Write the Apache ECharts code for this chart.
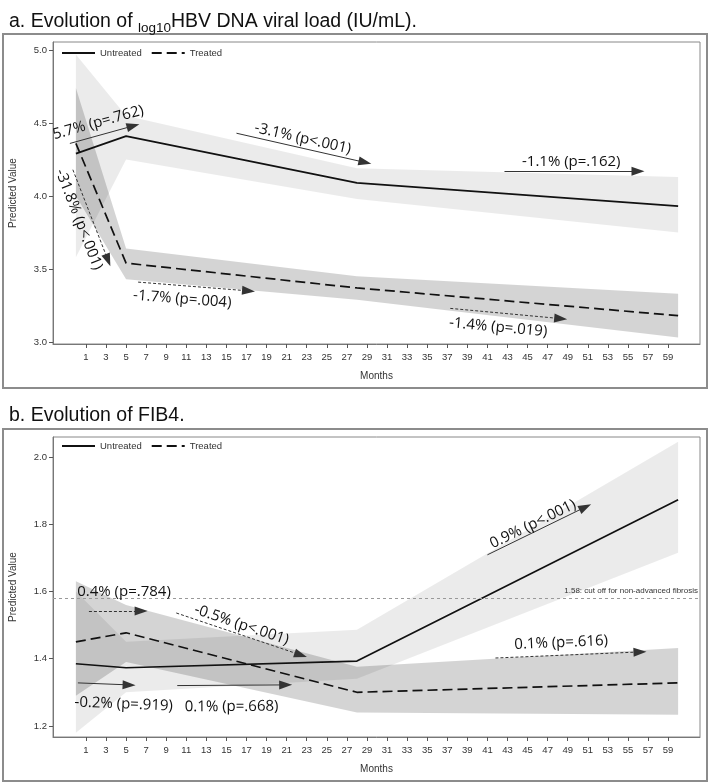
<!DOCTYPE html>
<html><head><meta charset="utf-8">
<script src="https://cdn.jsdelivr.net/npm/echarts@6/dist/echarts.min.js"></script>
<style>html,body{margin:0;padding:0;background:#fff}#c{width:710px;height:783px}</style>
</head><body><div id="c"></div>
<script>
// ---- data ----
const months = [0, 5, 28, 60];
const monthTicks = [1,3,5,7,9,11,13,15,17,19,21,23,25,27,29,31,33,35,37,39,41,43,45,47,49,51,53,55,57,59];
const seriesNames = ['Untreated', 'Treated'];

// Panel a: log10 HBV DNA
const hbvUntreated     = [4.29, 4.41, 4.09, 3.93];
const hbvUntreatedLow  = [3.58, 4.25, 3.98, 3.75];
const hbvUntreatedHigh = [4.97, 4.55, 4.19, 4.13];
const hbvTreated       = [4.36, 3.54, 3.37, 3.18];
const hbvTreatedLow    = [4.00, 3.43, 3.29, 3.03];
const hbvTreatedHigh   = [4.74, 3.64, 3.45, 3.33];
const hbvTicks = [3.0, 3.5, 4.0, 4.5, 5.0];
// annotations: [month1, value1, month2, value2, text]
const hbvArrowsSolid = [
  [-0.6, 4.36, 5.7, 4.48, '5.7% (p=.762)'],
  [16.0, 4.43, 28.8, 4.23, '-3.1% (p<.001)'],
  [42.7, 4.17, 56.0, 4.17, '-1.1% (p=.162)']
];
const hbvArrowsDotted = [
  [-0.3, 4.18, 3.2, 3.56, '-31.8% (p<.001)'],
  [6.2, 3.41, 17.2, 3.35, '-1.7% (p=.004)'],
  [37.3, 3.23, 48.3, 3.16, '-1.4% (p=.019)']
];

// Panel b: FIB4
const fibUntreated     = [1.385, 1.373, 1.393, 1.873];
const fibUntreatedLow  = [1.18, 1.30, 1.34, 1.715];
const fibUntreatedHigh = [1.60, 1.45, 1.486, 2.045];
const fibTreated       = [1.45, 1.477, 1.30, 1.328];
const fibTreatedLow    = [1.29, 1.39, 1.24, 1.233];
const fibTreatedHigh   = [1.63, 1.56, 1.376, 1.432];
const fibTicks = [1.2, 1.4, 1.6, 1.8, 2.0];
const fibCutoff = 1.58;
const fibCutoffLabel = '1.58: cut off for non-advanced fibrosis';
const fibArrowsSolid = [
  [0.2, 1.328, 5.3, 1.322, '-0.2% (p=.919)'],
  [10.1, 1.320, 20.9, 1.322, '0.1% (p=.668)'],
  [41.0, 1.709, 50.75, 1.851, '0.9% (p<.001)']
];
const fibArrowsDotted = [
  [1.3, 1.542, 6.5, 1.542, '0.4% (p=.784)'],
  [10.0, 1.536, 22.4, 1.411, '-0.5% (p<.001)'],
  [41.8, 1.402, 56.2, 1.420, '0.1% (p=.616)']
];
// label style: [side, distance, shift along line]
const labelStyle = {
  '5.7% (p=.762)':['insideMiddleTop', 5, 0], '-3.1% (p<.001)':['insideMiddleTop', 2, 0],
  '-1.1% (p=.162)':['insideMiddleTop', 2, 0], '-31.8% (p<.001)':['insideMiddleBottom', 5, 0],
  '-1.7% (p=.004)':['insideMiddleBottom', 6, -10], '-1.4% (p=.019)':['insideMiddleBottom', 7, -6],
  '-0.2% (p=.919)':['insideMiddleBottom', 12, 21], '0.1% (p=.668)':['insideMiddleBottom', 14, 0],
  '0.9% (p<.001)':['insideMiddleTop', 0, 0], '0.4% (p=.784)':['insideMiddleTop', 12, 9],
  '-0.5% (p<.001)':['insideMiddleTop', 2, 0], '0.1% (p=.616)':['insideMiddleTop', 5, -6]
};

// ---- chart ----
const chart = echarts.init(document.getElementById('c'), null, {renderer:'canvas'});
const axisFont = 'Liberation Sans, Arial, sans-serif';
const annFont = 'Open Sans, sans-serif';

function bandSeries(gi, low, high, color) {
  return {
    type:'custom', xAxisIndex:gi, yAxisIndex:gi, silent:true, z:1,
    data: months.map((m,i)=>[m, low[i], high[i]]),
    encode:{x:0, y:[1,2]},
    renderItem: function(params, api) {
      if (params.dataIndex !== 0) return null;
      const pts = [];
      for (let i=0;i<months.length;i++) pts.push(api.coord([months[i], high[i]]));
      for (let i=months.length-1;i>=0;i--) pts.push(api.coord([months[i], low[i]]));
      return {type:'polygon', shape:{points:pts}, style:{fill:color}};
    }
  };
}
function lineSeries(gi, name, vals, dashed) {
  return {
    type:'line', name:name, xAxisIndex:gi, yAxisIndex:gi, z:3,
    data: months.map((m,i)=>[m, vals[i]]),
    symbol:'none', silent:true,
    lineStyle:{color:'#111', width:1.7, type: dashed ? [10,5] : 'solid'},
    itemStyle:{color:'#111'}
  };
}
function arrowSeries(gi, list, dotted) {
  return {
    type:'line', xAxisIndex:gi, yAxisIndex:gi, data:[], silent:true, z:4,
    markLine:{
      silent:true, animation:false,
      symbol:['none','triangle'], symbolSize:[9,13],
      lineStyle:{color:'#333', width:1, type: dotted ? [3,2] : 'solid'},
      itemStyle:{color:'#111'},
      data: list.map(a => {
        const st = labelStyle[a[4]];
        const s = st[2];
        const pad = s >= 0 ? [0, 0, 0, 2*s] : [0, -2*s, 0, 0];
        const lab = {show:true, position:st[0], formatter:'{b}', fontSize:15,
          color:'#111', fontFamily:annFont, distance:st[1], padding:pad};
        return [
          {coord:[a[0],a[1]], name:a[4], label:lab},
          {coord:[a[2],a[3]], name:a[4], label:lab}
        ];
      })
    }
  };
}
function xAxisCfg(gi) {
  return {
    gridIndex:gi, type:'value', min:-2.28, max:62.18,
    axisLine:{show:true, onZero:false, lineStyle:{color:'#777', width:1}},
    axisTick:{show:true, customValues:monthTicks, length:4, lineStyle:{color:'#555'}},
    axisLabel:{customValues:monthTicks, fontSize:9.5, color:'#333', margin:8, fontFamily:axisFont},
    splitLine:{show:false},
    name:'Months', nameLocation:'middle', nameGap:27,
    nameTextStyle:{fontSize:10, color:'#333', fontFamily:axisFont}
  };
}
function yAxisCfg(gi, min, max, ticks) {
  return {
    gridIndex:gi, type:'value', min:min, max:max,
    axisLine:{show:true, onZero:false, lineStyle:{color:'#777', width:1}},
    axisTick:{show:true, customValues:ticks, length:4, lineStyle:{color:'#555'}},
    axisLabel:{customValues:ticks, fontSize:9.5, color:'#333', margin:6, fontFamily:axisFont,
      formatter:v=>Number(v).toFixed(1)},
    splitLine:{show:false},
    name:'Predicted Value', nameLocation:'middle', nameGap:35,
    nameTextStyle:{fontSize:10, color:'#333', fontFamily:axisFont}
  };
}
const legendCfg = (top) => ({
  left:56, top:top, orient:'horizontal', data:seriesNames,
  itemWidth:33, itemHeight:8, itemGap:9,
  itemStyle:{opacity:0, color:'rgba(0,0,0,0)', borderWidth:0},
  textStyle:{fontSize:9.5, color:'#333', fontFamily:axisFont},
  selectedMode:false
});

const option = {
  animation:false,
  backgroundColor:'#fff',
  title:[
    {left:4, top:4, text:'{n|a. Evolution of }{s|log10}{n|HBV DNA viral load (IU/mL).}',
      textStyle:{fontWeight:'normal', rich:{
        n:{fontSize:19.5, fontFamily:axisFont, fontWeight:'normal', color:'#111', lineHeight:26, verticalAlign:'middle'},
        s:{fontSize:13.5, fontFamily:axisFont, fontWeight:'normal', color:'#111', lineHeight:14, verticalAlign:'bottom'}
      }}},
    {left:4, top:401, text:'b. Evolution of FIB4.',
      textStyle:{fontSize:19.5, fontFamily:axisFont, color:'#111', fontWeight:'normal'}}
  ],
  legend:[legendCfg(43), legendCfg(436)],
  grid:[
    {left:52, top:42, width:648, height:302, show:true, borderColor:'#888', borderWidth:1, backgroundColor:'transparent'},
    {left:52, top:437, width:648, height:300, show:true, borderColor:'#888', borderWidth:1, backgroundColor:'transparent'}
  ],
  xAxis:[xAxisCfg(0), xAxisCfg(1)],
  yAxis:[yAxisCfg(0, 2.986, 5.055, hbvTicks), yAxisCfg(1, 1.167, 2.0595, fibTicks)],
  graphic:[
    {type:'rect', shape:{x:3, y:34, width:704, height:354}, style:{fill:'none', stroke:'#8c8c8c', lineWidth:2}, silent:true},
    {type:'rect', shape:{x:3, y:429, width:704, height:352}, style:{fill:'none', stroke:'#8c8c8c', lineWidth:2}, silent:true}
  ],
  series:[
    bandSeries(0, hbvUntreatedLow, hbvUntreatedHigh, 'rgba(0,0,0,0.08)'),
    bandSeries(0, hbvTreatedLow, hbvTreatedHigh, 'rgba(0,0,0,0.17)'),
    lineSeries(0, 'Untreated', hbvUntreated, false),
    lineSeries(0, 'Treated', hbvTreated, true),
    arrowSeries(0, hbvArrowsSolid, false),
    arrowSeries(0, hbvArrowsDotted, true),
    bandSeries(1, fibUntreatedLow, fibUntreatedHigh, 'rgba(0,0,0,0.08)'),
    bandSeries(1, fibTreatedLow, fibTreatedHigh, 'rgba(0,0,0,0.17)'),
    lineSeries(1, 'Untreated', fibUntreated, false),
    lineSeries(1, 'Treated', fibTreated, true),
    arrowSeries(1, fibArrowsSolid, false),
    arrowSeries(1, fibArrowsDotted, true),
    {type:'line', xAxisIndex:1, yAxisIndex:1, data:[], silent:true, z:2,
      markLine:{silent:true, animation:false, symbol:['none','none'],
        lineStyle:{color:'#999', width:1, type:[3,3]},
        label:{show:true, position:'insideEndTop', formatter:fibCutoffLabel, fontSize:8,
          color:'#333', fontFamily:axisFont, distance:[2,3]},
        data:[{yAxis:fibCutoff}]}}
  ]
};
chart.setOption(option);
</script>
</body></html>
